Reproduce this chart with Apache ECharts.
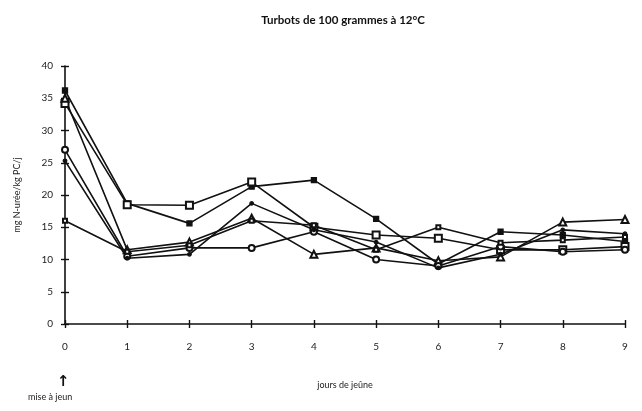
<!DOCTYPE html>
<html>
<head>
<meta charset="utf-8">
<script src="https://cdn.jsdelivr.net/npm/echarts@6/dist/echarts.min.js"></script>
<style>
  html, body { margin: 0; padding: 0; background: #fff; }
  #chart { width: 642px; height: 411px; }
</style>
</head>
<body>
<div id="chart"></div>
<script>
// Days of fasting (x positions)
const days = [0, 1, 2, 3, 4, 5, 6, 7, 8, 9];

// Urea-N excretion, mg N-urée / kg PC / j, one array per fish group
const groupFilledSquare = [36.2, 18.7, 15.6, 21.3, 22.3, 16.3, 9.3, 14.3, 13.8, 12.8];
const groupOpenSquare   = [34.2, 18.5, 18.4, 22.0, 15.0, 13.8, 13.3, 11.5, 11.5, 12.0];
const groupTriangle     = [35.0, 11.5, 12.7, 16.4, 10.8, 11.8, 9.8, 10.4, 15.8, 16.2];
const groupCircle       = [27.0, 10.5, 11.8, 11.8, 14.3, 10.0, 9.0, 12.0, 11.2, 11.5];
const groupDot          = [25.3, 10.2, 10.8, 18.7, 14.6, 12.7, 8.7, 10.8, 14.6, 14.0];
const groupSmall        = [16.0, 11.2, 12.2, 16.0, 15.3, 11.5, 15.0, 12.6, 13.0, 13.5];

const yTicks = [0, 5, 10, 15, 20, 25, 30, 35, 40];

const FONT = 'Lato, "DejaVu Sans", sans-serif';

function pairs(vals) {
  return days.map((d, i) => [d, vals[i]]);
}

function line(name, vals, symbol, size) {
  return {
    name: name,
    type: 'line',
    data: pairs(vals),
    symbol: symbol,
    symbolSize: size,
    lineStyle: { color: '#111', width: 1.6 },
    itemStyle: { color: '#111', borderColor: '#111', borderWidth: 1.3 },
    emphasis: { disabled: true },
    z: 3
  };
}

const chart = echarts.init(document.getElementById('chart'), null, { renderer: 'canvas' });

const grid = { left: 65, right: 17, top: 66, bottom: 87 };

chart.setOption({
  animation: false,
  backgroundColor: '#fff',
  title: {
    text: 'Turbots de 100 grammes à 12°C',
    left: 338,
    textAlign: 'center',
    top: 9,
    textStyle: { fontFamily: FONT, fontSize: 11.5, fontWeight: 'bold', color: '#111' }
  },
  grid: grid,
  xAxis: [
    {
      type: 'value', min: 0, max: 9, interval: 1,
      axisLine: { show: true, lineStyle: { color: '#111', width: 1.6 } },
      axisTick: { show: true, length: 4, lineStyle: { color: '#111', width: 1.4 } },
      axisLabel: { margin: 18, fontFamily: FONT, fontSize: 10, color: '#222' },
      splitLine: { show: false },
      name: 'jours de jeûne',
      nameLocation: 'middle',
      nameGap: 57,
      nameTextStyle: { fontFamily: FONT, fontSize: 9, color: '#222' }
    },
    {
      type: 'value', min: 0, max: 9, interval: 1, position: 'bottom',
      axisLine: { show: false },
      axisTick: { show: true, inside: true, length: 4, lineStyle: { color: '#111', width: 1.4 } },
      axisLabel: { show: false },
      splitLine: { show: false }
    }
  ],
  yAxis: [
    {
      type: 'value', min: yTicks[0], max: yTicks[yTicks.length - 1], interval: 5,
      axisLine: { show: true, lineStyle: { color: '#111', width: 1.6 } },
      axisTick: { show: true, length: 4, lineStyle: { color: '#111', width: 1.4 } },
      axisLabel: { margin: 12, fontFamily: FONT, fontSize: 10, color: '#222' },
      splitLine: { show: false },
      name: 'mg N-urée/kg PC/j',
      nameLocation: 'middle',
      nameRotate: 90,
      nameGap: 43,
      nameTextStyle: { fontFamily: FONT, fontSize: 9, color: '#222' }
    },
    {
      type: 'value', min: 0, max: 40, interval: 5, position: 'left',
      axisLine: { show: false },
      axisTick: { show: true, inside: true, length: 4, lineStyle: { color: '#111', width: 1.4 } },
      axisLabel: { show: false },
      splitLine: { show: false }
    }
  ],
  series: [
    line('carrés pleins', groupFilledSquare, 'rect', 5),
    line('carrés vides', groupOpenSquare, 'emptyRect', 7),
    line('triangles', groupTriangle, 'emptyTriangle', 7),
    line('cercles', groupCircle, 'emptyCircle', 6),
    line('points', groupDot, 'circle', 3.5),
    line('petits', groupSmall, 'emptyRect', 4)
  ],
  graphic: [
    {
      type: 'text',
      left: 57, top: 375,
      style: { text: '↑', fontFamily: '"DejaVu Sans", sans-serif', fontSize: 15, fontWeight: 'bold', fill: '#111' }
    },
    {
      type: 'text',
      left: 28, top: 393,
      style: { text: 'mise à jeun', fontFamily: FONT, fontSize: 9, fill: '#222' }
    }
  ]
});
</script>
</body>
</html>
